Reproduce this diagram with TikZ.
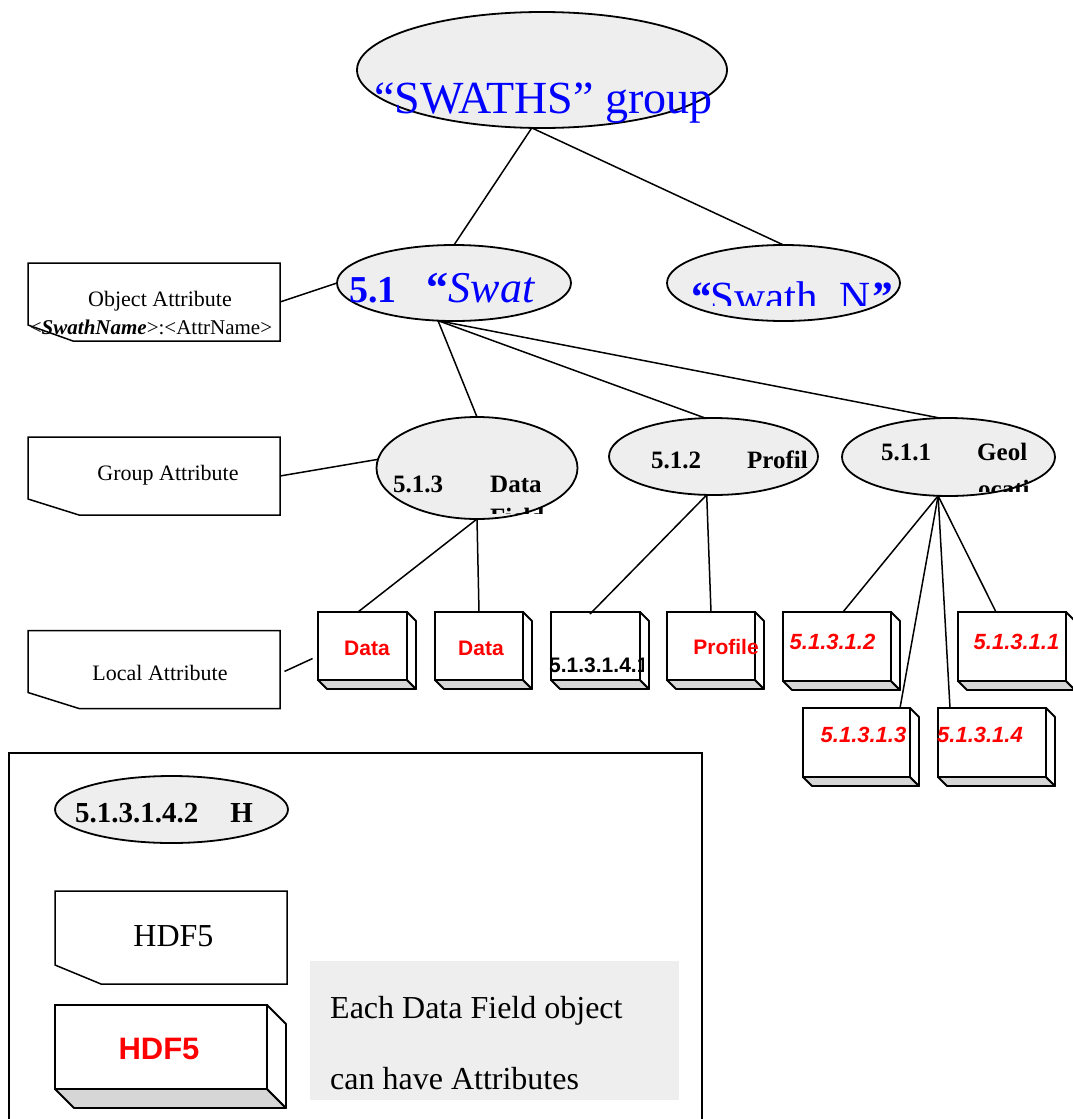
\documentclass[tikz,border=0pt]{standalone}
\usepackage{fontspec}
\setmainfont{Liberation Serif}
\setsansfont{Liberation Sans}
\usetikzlibrary{calc,shapes.geometric}
\definecolor{grpfill}{HTML}{EEEEEE}
\definecolor{cubeshade}{HTML}{D6D6D6}
\definecolor{hdfblue}{HTML}{0000FF}
\definecolor{hdfred}{HTML}{FF0000}
\newcommand\fsz[1]{\fontsize{#1}{#1}\selectfont}
% side and bottom faces of a cube node
\newcommand\cubesides[2]{%
	\draw[line width=1.8pt, line join=round, fill=cubeshade] (#1.south west) -- (#1.south east) -- ++(#2,#2) -- ($(#1.south west)+(#2,#2)$) -- cycle;
	\draw[line width=1.8pt, line join=round, fill=white] (#1.north east) -- ++(#2,#2) -- ($(#1.south east)+(#2,#2)$) -- (#1.south east) -- cycle;}
% attribute box with the lower left corner cut off
\newcommand\attrshape[3]{%
	\draw[line width=1.5pt] (#1.north west) -- (#1.north east) -- (#1.south east) -- ([xshift=#2pt]#1.south west) -- ([yshift=#3pt]#1.south west) -- cycle;}

\begin{document}
\begin{tikzpicture}[x=1pt, y=-1pt,
	grp/.style={ellipse, draw, line width=1.8pt, fill=grpfill, inner sep=0, outer sep=0},
	cube/.style={rectangle, draw, line width=1.8pt, fill=white, inner sep=0, outer sep=0},
	attrbox/.style={rectangle, inner sep=0, outer sep=0, minimum width=252, minimum height=78},
	conn/.style={line width=1.5pt},
	bluetxt/.style={text=hdfblue, inner sep=0},
	redtxt/.style={text=hdfred, inner sep=0, font=\fsz{21}\sffamily\bfseries},
	rednum/.style={text=hdfred, inner sep=0, font=\fsz{22}\sffamily\bfseries\itshape},
	numtxt/.style={inner sep=0, font=\fsz{25}\bfseries},
	plaintxt/.style={inner sep=0, font=\fsz{22}}]
		%%%%% START %%%%%
		\useasboundingbox (0,0) rectangle (1072,1119);
		
		% groups
		\node[grp, minimum width=370, minimum height=116] (swaths) at (542,70) {};
		\node[bluetxt, anchor=base west, font=\fsz{46}] (swathstxt) at (374,113) {“SWATHS” group};
		
		\node[grp, minimum width=234, minimum height=76] (s51) at (454,283) {};
		\node[bluetxt, anchor=base west] (s51txt) at (349,302) {\fsz{38}\bfseries 5.1\hspace{30pt}\fsz{44}“\textit{\mdseries Swat}};
		
		\node[grp, minimum width=233, minimum height=76] (swn) at (783.5,283) {};
		\begin{scope}
			\clip (660,240) rectangle (905,305);
			\node[bluetxt, anchor=base west, font=\fsz{43}] (swntxt) at (689,311) {\textbf{\textit{“}}Swath\_N\textbf{\textit{”}}};
		\end{scope}
		
		\node[grp, minimum width=201, minimum height=102] (g513) at (477,468) {};
		\begin{scope}
			\clip (380,440) rectangle (575,513);
			\node[numtxt, anchor=base west] (g513txt) at (393,492) {5.1.3\hspace{47pt}Data};
			\node[numtxt, anchor=base west] (g513more) at (490,525) {Field};
		\end{scope}
		
		\node[grp, minimum width=209, minimum height=77] (g512) at (713.5,456.5) {};
		\node[numtxt, anchor=base west] (g512txt) at (651,468) {5.1.2\hspace{46pt}Profil};
		
		\node[grp, minimum width=213, minimum height=78] (g511) at (948.5,457) {};
		\begin{scope}
			\clip (860,430) rectangle (1050,491);
			\node[numtxt, anchor=base west] (g511txt) at (881,460) {5.1.1\hspace{46pt}Geol};
			\node[numtxt, anchor=base west] (g511more) at (978,497) {ocati};
		\end{scope}
		
		% attribute boxes
		\node[attrbox] (oa) at (154,302) {};
		\attrshape{oa}{45}{16}
		\node[plaintxt] (oatxt) at (160,301) {Object Attribute};
		\node[inner sep=0, font=\fsz{21}] (oaname) at (151,327) {\textless\textbf{\textit{SwathName}}\textgreater:\textless AttrName\textgreater};
		
		\node[attrbox] (ga) at (154,476) {};
		\attrshape{ga}{51}{16}
		\node[plaintxt] (gatxt) at (168,475) {Group Attribute};
		
		\node[attrbox] (la) at (154,669.5) {};
		\attrshape{la}{51}{16}
		\node[plaintxt] (latxt) at (160,673) {Local Attribute};
		
		% datasets
		\node[cube, minimum width=89, minimum height=68] (d1) at (362.5,646) {};
		\cubesides{d1}{9}
		\node[redtxt] (d1txt) at (367,648) {Data};
		
		\node[cube, minimum width=88, minimum height=68] (d2) at (479,646) {};
		\cubesides{d2}{9}
		\node[redtxt] (d2txt) at (481,648) {Data};
		
		\node[cube, minimum width=89, minimum height=68] (d3) at (595.5,646) {};
		\cubesides{d3}{9}
		\begin{scope}
			\clip (540,600) rectangle (643,700);
			\node[inner sep=0, anchor=west, font=\fsz{21}\sffamily\bfseries] (d3txt) at (549,665) {5.1.3.1.4.1};
		\end{scope}
		
		\node[cube, minimum width=88, minimum height=68] (d4) at (711,646) {};
		\cubesides{d4}{9}
		\node[redtxt] (d4txt) at (726,647) {Profile};
		
		\node[cube, minimum width=108, minimum height=69] (b5) at (837,646.5) {};
		\cubesides{b5}{9}
		\node[rednum] (b5txt) at (832.5,642) {5.1.3.1.2};
		
		\node[cube, minimum width=108, minimum height=69] (b6) at (1012,646.5) {};
		\cubesides{b6}{9}
		\node[rednum] (b6txt) at (1016.5,642) {5.1.3.1.1};
		
		\node[cube, minimum width=107, minimum height=69] (b7) at (856.5,742.5) {};
		\cubesides{b7}{9}
		\node[rednum] (b7txt) at (863.5,735) {5.1.3.1.3};
		
		\node[cube, minimum width=108, minimum height=69] (b8) at (992,742.5) {};
		\cubesides{b8}{9}
		\node[rednum] (b8txt) at (980,735) {5.1.3.1.4};
		
		% links
		\draw[conn] (swaths.260) -- (s51.north);
		\draw[conn] (swaths.260) -- (swn.north);
		\draw[conn] (s51.247) -- (g513.north);
		\draw[conn] (s51.247) -- (g512.102);
		\draw[conn] (s51.247) -- (g511.102);
		\draw[conn] (g513.south) -- ([xshift=40pt]d1.north west);
		\draw[conn] (g513.south) -- (d2.north);
		\draw[conn] (g512.260) -- ([xshift=39pt,yshift=-2pt]d3.north west);
		\draw[conn] (g512.260) -- (d4.north);
		\draw[conn] (g511.255) -- ([xshift=60pt]b5.north west);
		\draw[conn] (g511.255) -- ([xshift=-10pt]b7.north east);
		\draw[conn] (g511.255) -- ([xshift=12pt]b8.north west);
		\draw[conn] (g511.255) -- ([xshift=38pt]b6.north west);
		
		\draw[conn] (oa.east) -- (s51.west);
		\draw[conn] (ga.east) -- (g513.175);
		\draw[conn, shorten <=5pt, shorten >=6pt] ([yshift=-4pt]la.east) -- ([yshift=-10pt]d1.west);
		
		% legend
		\draw[line width=1.5pt] (9,1125) -- (9,753) -- (702,753) -- (702,1125);
		
		\node[grp, minimum width=233, minimum height=67] (lgrp) at (171.5,809.5) {};
		\node[inner sep=0, anchor=base west, font=\fsz{29}\bfseries] (lgrptxt) at (75,822) {5.1.3.1.4.2\hspace{32pt}H};
		
		\node[attrbox, minimum width=232, minimum height=93] (lattr) at (171,937.5) {};
		\attrshape{lattr}{46}{19}
		\node[inner sep=0, font=\fsz{32}] (lattrtxt) at (173.5,936) {HDF5};
		
		\node[cube, minimum width=212, minimum height=84] (lcube) at (161,1047) {};
		\cubesides{lcube}{19}
		\node[redtxt, font=\fsz{31}\sffamily\bfseries] (lcubetxt) at (159,1049) {HDF5};
		
		\node[rectangle, fill=grpfill, inner sep=0, minimum width=369, minimum height=139] (note) at (494.5,1030.5) {};
		\node[inner sep=0, anchor=base west, font=\fsz{32}] (note1) at (330,1018) {Each Data Field object};
		\node[inner sep=0, anchor=base west, font=\fsz{32}] (note2) at (330,1089) {can have Attributes};
		
		%%%%% END %%%%%
\end{tikzpicture}
\end{document}
